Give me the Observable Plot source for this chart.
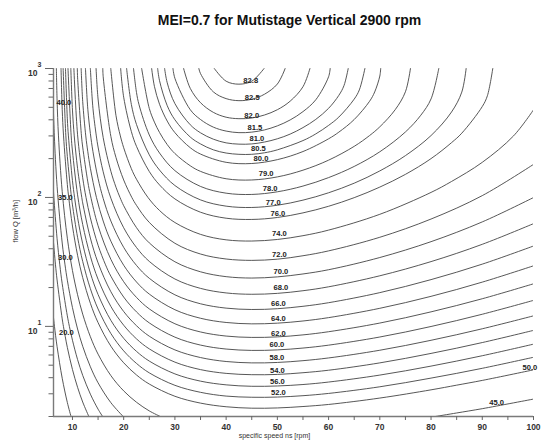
<!DOCTYPE html>
<html><head><meta charset="utf-8">
<script src="https://cdn.jsdelivr.net/npm/d3@7"></script>
<script src="https://cdn.jsdelivr.net/npm/@observablehq/plot@0.6"></script>
<style>html,body{margin:0;padding:0;background:#fff;}</style>
</head><body><div id="chart"></div>
<script>
const titleText = "MEI=0.7 for Mutistage Vertical 2900 rpm";
const xTitle = "specific speed ns [rpm]";
const yTitle = "flow Q [m³/h]";
const xTicks = [10,15,20,25,30,35,40,45,50,55,60,65,70,75,80,85,90,95,100];
const yMajor = [10, 100, 1000];
const yExp = ["1", "2", "3"];
const yMinor = [2,3,4,5,6,7,8,9,20,30,40,50,60,70,80,90,200,300,400,500,600,700,800,900];

// contour lines: [ns, Q]
const c20 = [[6.3,11.69],[6.49,10],[7,6.96],[8,3.96],[9,2.57],[9.72,2]];
const c30 = [[6.3,44.8],[6.69,30],[7,22.9],[8,11.43],[8.24,10],[9,6.87],[10,4.63],[11,3.37],[12,2.59],[13.2,2]];
const c35 = [[6.3,110.7],[6.37,100],[7,47.8],[7.53,30],[8,21.4],[9,12.07],[9.4,10],[10,7.81],[11,5.53],[12,4.17],[13.5,2.98],[15,2.28],[15.89,2]];
const c40 = [[6.3,450],[6.46,300],[7,122],[8,44.3],[8.55,30],[9,22.8],[10,13.98],[11,9.54],[12,7.01],[13.5,4.86],[15,3.65],[17.5,2.56],[19.9,2]];
const c45a = [[6.86,1000],[7,567],[7.27,300],[8,111],[9,48.3],[10,27.1],[11,17.6],[12,12.44],[13.5,8.31],[15,6.09],[17.5,4.15],[20,3.16],[22.5,2.58],[25,2.21],[27.15,2]];
const c45b = [[80.85,2],[85,2.13],[90,2.30],[100,2.73]];
const c50 = [[7.77,1000],[8,481],[8.26,300],[9,126],[9.27,100],[10,60],[11,35.6],[12,23.9],[13.5,15.1],[15,10.69],[17.5,7.02],[20,5.22],[22.5,4.20],[25,3.57],[30,2.87],[35,2.54],[40,2.38],[45,2.32],[50,2.33],[55,2.39],[60,2.48],[70,2.78],[80,3.22],[85,3.50],[90,3.81],[100,4.60]];
const c52 = [[8.18,1000],[8.71,300],[9,208],[9.81,100],[10,87.5],[11,49.1],[12,31.9],[13.5,19.6],[15,13.64],[17.5,8.80],[20,6.46],[22.5,5.16],[25,4.36],[30,3.49],[35,3.08],[40,2.88],[45,2.82],[50,2.83],[55,2.90],[60,3.02],[70,3.40],[80,3.97],[90,4.73],[100,5.76]];
const c54 = [[8.64,1000],[9,407],[9.21,300],[10,135],[10.41,100],[11,70.1],[12,43.7],[13.5,25.9],[15,17.66],[17.5,11.13],[20,8.08],[22.5,6.40],[25,5.38],[30,4.28],[35,3.76],[40,3.52],[45,3.43],[50,3.45],[55,3.54],[60,3.70],[70,4.19],[80,4.92],[90,5.92],[100,7.28]];
const c56 = [[9.13,1000],[9.75,300],[10,229],[11,104.8],[12,61.7],[13.5,35.0],[15,23.2],[17.5,14.27],[20,10.21],[22.5,8.00],[25,6.69],[30,5.28],[35,4.62],[40,4.32],[45,4.22],[50,4.24],[55,4.37],[60,4.57],[70,5.21],[80,6.17],[90,7.49],[100,9.31]];
const c58 = [[9.68,1000],[10,476],[10.35,300],[11,168],[11.82,100],[12,90.7],[13.5,48.4],[15,31.1],[17.5,18.56],[20,13.04],[22.5,10.12],[25,8.39],[30,6.57],[35,5.73],[40,5.34],[45,5.21],[50,5.25],[55,5.42],[60,5.69],[70,6.53],[80,7.80],[90,9.58],[100,12.07]];
const c60 = [[10.28,1000],[11,306],[12,142],[12.65,100],[13.5,69.4],[15,42.6],[16.46,30],[17.5,24.5],[20,16.88],[22.5,12.95],[25,10.64],[30,8.25],[35,7.16],[40,6.67],[45,6.51],[50,6.57],[55,6.79],[60,7.15],[70,8.27],[80,9.98],[90,12.42],[100,15.91]];
const c62 = [[10.95,1000],[11,857],[11.76,300],[12,246],[13,132],[13.5,104.2],[15,60.3],[17.5,33.1],[20,22.2],[22.5,16.78],[25,13.66],[30,10.48],[35,9.05],[40,8.41],[45,8.21],[50,8.29],[55,8.59],[60,9.09],[70,10.61],[80,12.96],[90,16.38],[100,21.39]];
const c64 = [[11.70,1000],[12,556],[12.60,300],[13,226],[13.5,168.4],[14.68,100],[16,65.6],[17.5,45.8],[20,29.8],[22.5,22.1],[25,17.80],[30,13.46],[35,11.56],[40,10.72],[45,10.46],[50,10.59],[55,11.01],[60,11.69],[70,13.81],[80,17.10],[90,22.04],[100,29.49]];
const c66 = [[12.54,1000],[13,483],[13.5,313],[14,227],[15,140.3],[16,98.2],[17.5,65.6],[20,41.0],[22.5,29.7],[25,23.6],[30,17.57],[35,14.97],[40,13.85],[45,13.52],[50,13.71],[55,14.31],[60,15.26],[70,18.27],[80,23.05],[90,30.39],[100,42.0]];
const c68 = [[13.50,1000],[14,492],[14.66,300],[15,246],[16,158],[17.5,98.6],[20,58.2],[22.5,40.9],[25,31.9],[30,23.3],[35,19.71],[40,18.17],[45,17.74],[50,18.03],[55,18.9],[60,20.27],[70,24.68],[80,31.8],[90,43.3],[100,62.6]];
const c70 = [[14.61,1000],[15,580],[16,291],[17.5,159.4],[18.5,120],[19.28,100],[20,86.3],[22.5,58.3],[25,44.4],[30,31.7],[35,26.5],[40,24.3],[45,23.7],[50,24.2],[55,25.5],[60,27.5],[70,34.2],[80,45.4],[90,64.6],[100,99.8]];
const c72 = [[15.92,1000],[16,864],[17.5,297],[18.5,204],[20,136.6],[21.59,100],[22.5,86.8],[25,64.0],[30,44.1],[35,36.4],[40,33.3],[45,32.5],[50,33.2],[55,35.3],[60,38.5],[70,49.1],[80,68.0],[90,103.3],[100,180.4]];
const c74 = [[17.48,1000],[18.5,431],[19.35,300],[20,243],[21.5,167],[22.5,138.4],[24.74,100],[27,79.2],[30,63.9],[35,51.7],[40,46.9],[45,45.9],[50,47.2],[55,50.5],[60,55.8],[70,74.0],[80,109.4],[84,133],[90,187.2],[96.1,300],[100,478]];
const c76 = [[19.41,1000],[20,599],[21.5,324],[22.5,249],[25,158.9],[27,125],[30,97.4],[35,76.8],[40,69.0],[45,67.5],[50,69.9],[55,75.9],[60,85.4],[65,99.6],[70,120.3],[75,151],[80,200],[84,266],[86,315],[90,507],[91,615],[92.05,1000]];
const c77 = [[20.57,1000],[21.5,526],[22.5,368],[25,214],[27,163],[30,123.7],[35,95.7],[40,85.6],[45,83.6],[50,87.0],[55,95.3],[60,108.7],[65,129],[70,160.6],[75,211],[80,302],[84,460],[86,656],[86.85,1000]];
const c78 = [[21.92,1000],[22.5,652],[23,523],[25,305],[27,221],[30,161.4],[35,121.7],[40,107.9],[45,105.5],[50,110.6],[55,122.5],[60,142.5],[65,174],[70,226],[75,322],[78,434],[80,581],[81.51,1000]];
const c79 = [[23.51,1000],[25,490],[26,384],[27,319],[28.5,257],[30,219],[33,176],[35,159.3],[40,139.6],[45,136.6],[50,144.3],[55,162.7],[60,194.6],[65,249],[68,302],[70,353],[73,479],[75,660],[75.98,1000]];
const c80 = [[25.46,1000],[26,727],[27,528],[28.5,391],[30,318],[33,243],[35,217],[40,187.2],[45,183.3],[50,196.4],[55,227],[60,285],[62,321],[65,402],[68,557],[69,658],[70,874],[70.17,1000]];
const c80_5 = [[26.63,1000],[27,804],[28.5,515],[30,400],[33,294],[35,260],[37.5,234],[40,221],[42.5,216],[45,216],[47.5,222],[50,234],[55,276],[57.5,311],[60,362],[62,420],[65,579],[66,682],[67.09,1000]];
const c81 = [[27.99,1000],[28.5,775],[30,534],[33,366],[35,317],[37.5,283],[40,265],[42.5,259],[45,260],[47.5,269],[50,285],[52.5,310],[55,348],[57.5,403],[60,491],[62,619],[63,736],[63.83,1000]];
const c81_5 = [[29.62,1000],[30,839],[33,479],[35,402],[37.5,351],[40,327],[42.5,318],[45,321],[47.5,334],[50,359],[52.5,399],[55,463],[57.5,572],[60,863],[60.31,1000]];
const c82 = [[31.70,1000],[33,701],[35,543],[37.5,457],[40,419],[42.5,408],[45,413],[47.5,436],[50,479],[52.5,558],[55,722],[56.36,1000]];
const c82_5 = [[34.67,1000],[35,913],[37.5,659],[40,584],[42.5,563],[45,578],[47.5,632],[50,758],[51.52,1000]];
const c82_8 = [[37.69,1000],[40,797],[42.5,756],[45,797],[47.40,1000]];

const contourLines = [c20, c30, c35, c40, c45a, c45b, c50, c52, c54, c56, c58, c60, c62, c64, c66, c68, c70, c72, c74, c76, c77, c78, c79, c80, c80_5, c81, c81_5, c82, c82_5, c82_8];

// contour labels as printed (text, ns, Q)
const labelText = ["82.8","82.5","82.0","81.5","81.0","80.5","80.0","79.0","78.0","77.0","76.0","74.0","72.0","70.0","68.0","66.0","64.0","62.0","60.0","58.0","54.0","56.0","52.0","50.0","45.0","40.0","35.0","30.0","20.0"];
const labelNs = [44.8,45.1,45.0,45.6,46.0,46.3,46.8,47.8,48.6,49.2,50.1,50.4,50.4,50.7,50.7,50.2,50.2,50.2,49.9,49.9,50.0,50.0,50.2,99.3,92.8,8.33,8.62,8.62,8.8];
const labelQ = [807,596,432,349,286,240,200,153,117.5,91.4,75.2,52.6,36.1,26.7,20.1,15.1,11.5,8.83,7.25,5.75,4.56,3.75,3.08,4.81,2.58,545,100,34.3,8.98];

const rows = [];
contourLines.forEach((pts, i) => pts.forEach(([ns, q]) => rows.push({id: i, ns, q})));
const labels = labelText.map((t, i) => ({t, ns: labelNs[i], q: labelQ[i]}));

const chart = Plot.plot({
  width: 541, height: 445,
  marginLeft: 53, marginRight: 8, marginTop: 68, marginBottom: 29,
  x: {domain: [6.3, 100], axis: null},
  y: {type: "log", domain: [2, 1000], axis: null},
  style: {fontFamily: "'Liberation Sans', Arial, sans-serif", background: "#fff", color: "#222"},
  marks: [
    Plot.line(rows, {x: "ns", y: "q", z: "id", curve: "catmull-rom", stroke: "#444", strokeWidth: 0.9, clip: true}),
    Plot.text(labels, {x: "ns", y: "q", text: "t", fontSize: 7.6, fontWeight: "bold", fill: "#222"}),
    Plot.ruleX([6.3], {y1: 2, y2: 1000, stroke: "#7a7a7a", strokeWidth: 1.4}),
    Plot.ruleY([2], {x1: 6.3, x2: 100, stroke: "#7a7a7a", strokeWidth: 1.4}),
    Plot.axisY(yMinor, {tickSize: 4.5, tickFormat: () => "", stroke: "#666", label: null}),
    Plot.axisY(yMajor, {tickSize: 8, tickFormat: () => "", stroke: "#666", label: null}),
    Plot.axisX(xTicks, {tickSize: 4, tickPadding: 3, tickFormat: d => d % 10 === 0 ? String(d) : "", stroke: "#666", fill: "#333", fontSize: 8.5, fontWeight: "bold", label: null}),
    Plot.text(yMajor, {x: 6.3, y: d => d, text: () => "10", textAnchor: "end", dx: -16, dy: 5, fontSize: 8.5, fontWeight: "bold", fill: "#333"}),
    Plot.text(yMajor, {x: 6.3, y: d => d, text: (d, i) => yExp[i], textAnchor: "start", dx: -16, dy: -4, fontSize: 7, fontWeight: "bold", fill: "#333"}),
    Plot.text([titleText], {frameAnchor: "top", text: d => d, dy: -53, dx: -4, fontSize: 14, fontWeight: "bold", fill: "#111"}),
    Plot.text([xTitle], {frameAnchor: "bottom", text: d => d, dy: 21, dx: -19, fontSize: 7, fill: "#333"}),
    Plot.text([yTitle], {frameAnchor: "left", text: d => d, dx: -38, rotate: -90, fontSize: 7.5, fill: "#333"})
  ]
});
document.getElementById("chart").appendChild(chart);
</script>
</body></html>
